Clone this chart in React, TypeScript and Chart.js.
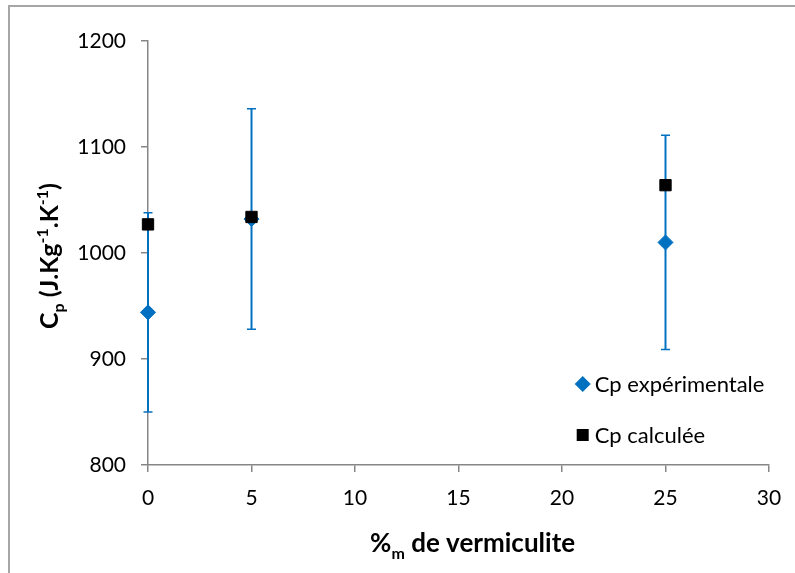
import React, { useEffect, useRef } from "react";
import { Chart, registerables } from "chart.js";

Chart.register(...registerables);

// ---- data ----
const xValues = [0, 5, 25];
const cpExperimentale = [944, 1032, 1010];
const cpExperimentaleErr = [94, 104, 101];
const cpCalculee = [1027, 1034, 1064];
const seriesLabels = ["Cp expérimentale", "Cp calculée"];
const xAxisMin = 0;
const xAxisMax = 30;
const xAxisStep = 5;
const yAxisMin = 800;
const yAxisMax = 1200;
const yAxisStep = 100;

const FONT = "Lato, 'Liberation Sans', sans-serif";
const BLUE = "#0070C0";
const AXIS = "#868686";

type Part = [string, "n" | "sub" | "sup"];

function drawRich(ctx: CanvasRenderingContext2D, parts: Part[], cx: number, cy: number, size: number, bold: boolean) {
  const small = Math.round(size * 0.62);
  const fontFor = (k: string) => `${bold ? "bold " : ""}${k === "n" ? size : small}px ${FONT}`;
  const widths = parts.map(([t, k]) => {
    ctx.font = fontFor(k);
    return ctx.measureText(t).width;
  });
  const total = widths.reduce((a, b) => a + b, 0);
  let x = cx - total / 2;
  const base = cy + size * 0.36;
  ctx.textBaseline = "alphabetic";
  ctx.textAlign = "left";
  parts.forEach(([t, k], i) => {
    ctx.font = fontFor(k);
    const off = k === "sub" ? size * 0.24 : k === "sup" ? -size * 0.4 : 0;
    ctx.fillText(t, x, base + off);
    x += widths[i];
  });
}

const errorBarPlugin = {
  id: "errorBars",
  beforeDatasetsDraw(chart: any) {
    const { ctx, scales } = chart;
    const xs = scales.x;
    const ys = scales.y;
    ctx.save();
    ctx.strokeStyle = BLUE;
    xValues.forEach((xv, i) => {
      const px = xs.getPixelForValue(xv);
      const top = ys.getPixelForValue(cpExperimentale[i] + cpExperimentaleErr[i]);
      const bot = ys.getPixelForValue(cpExperimentale[i] - cpExperimentaleErr[i]);
      ctx.lineWidth = 2;
      ctx.beginPath();
      ctx.moveTo(px, top);
      ctx.lineTo(px, bot);
      ctx.stroke();
      ctx.lineWidth = 1.5;
      ctx.beginPath();
      ctx.moveTo(px - 4.5, top);
      ctx.lineTo(px + 4.5, top);
      ctx.moveTo(px - 4.5, bot);
      ctx.lineTo(px + 4.5, bot);
      ctx.stroke();
    });
    ctx.restore();
  },
};

const decorPlugin = {
  id: "decor",
  afterDraw(chart: any) {
    const { ctx, chartArea } = chart;
    ctx.save();
    ctx.fillStyle = "#000";
    // y title
    ctx.save();
    ctx.translate(chartArea.left - 98.6, 256);
    ctx.rotate(-Math.PI / 2);
    drawRich(
      ctx,
      [
        ["C", "n"],
        ["p", "sub"],
        [" (J.Kg", "n"],
        ["-1", "sup"],
        [".K", "n"],
        ["-1", "sup"],
        [")", "n"],
      ],
      0,
      0,
      25,
      true
    );
    ctx.restore();
    // x title
    drawRich(
      ctx,
      [
        ["%", "n"],
        ["m", "sub"],
        [" de vermiculite", "n"],
      ],
      472.6,
      543,
      26,
      true
    );
    // legend
    const mx = chartArea.left + 434.7;
    const rows = [chartArea.top + 343.1, chartArea.top + 394];
    ctx.font = `22px ${FONT}`;
    ctx.textBaseline = "middle";
    ctx.textAlign = "left";
    rows.forEach((ry, i) => {
      if (i === 0) {
        ctx.fillStyle = BLUE;
        ctx.beginPath();
        ctx.moveTo(mx, ry - 8);
        ctx.lineTo(mx + 8, ry);
        ctx.lineTo(mx, ry + 8);
        ctx.lineTo(mx - 8, ry);
        ctx.closePath();
        ctx.fill();
      } else {
        ctx.fillStyle = "#000";
        ctx.fillRect(mx - 6, ry - 6, 12, 12);
      }
      ctx.fillStyle = "#000";
      ctx.fillText(seriesLabels[i], mx + 12, ry + 1);
    });
    ctx.restore();
  },
};

export default function App() {
  const ref = useRef<HTMLCanvasElement | null>(null);
  useEffect(() => {
    if (!ref.current) return;
    const chart = new Chart(ref.current, {
      type: "scatter",
      data: {
        datasets: [
          {
            label: seriesLabels[0],
            data: xValues.map((x, i) => ({ x, y: cpExperimentale[i] })),
            pointStyle: "rectRot",
            pointRadius: 7.5,
            pointBorderWidth: 1,
            backgroundColor: BLUE,
            borderColor: BLUE,
            order: 1,
            clip: false,
          },
          {
            label: seriesLabels[1],
            data: xValues.map((x, i) => ({ x, y: cpCalculee[i] })),
            pointStyle: "rect",
            pointRadius: 8,
            pointBorderWidth: 1,
            backgroundColor: "#000",
            borderColor: "#000",
            order: 0,
            clip: false,
          },
        ],
      },
      options: {
        responsive: false,
        animation: false,
        layout: { padding: { left: 0, right: 26, top: 41, bottom: 0 } },
        plugins: { legend: { display: false }, tooltip: { enabled: false } },
        scales: {
          x: {
            type: "linear",
            min: xAxisMin,
            max: xAxisMax,
            ticks: {
              stepSize: xAxisStep,
              color: "#000",
              font: { family: FONT, size: 21 },
              padding: 14,
              callback: (v: any) => String(v),
            },
            grid: { drawOnChartArea: false, drawTicks: true, tickLength: 7, color: AXIS, lineWidth: 1.5 },
            border: { color: AXIS, width: 1.5 },
            afterFit: (s: any) => {
              s.height = 108;
              s.paddingLeft = 0;
              s.paddingRight = 0;
            },
          },
          y: {
            type: "linear",
            min: yAxisMin,
            max: yAxisMax,
            ticks: {
              stepSize: yAxisStep,
              color: "#000",
              font: { family: FONT, size: 21 },
              padding: 15,
              callback: (v: any) => String(v),
            },
            grid: { drawOnChartArea: false, drawTicks: true, tickLength: 7, color: AXIS, lineWidth: 1.5 },
            border: { color: AXIS, width: 1.5 },
            afterFit: (s: any) => {
              s.width = 148;
              s.paddingTop = 0;
              s.paddingBottom = 0;
            },
          },
        },
      },
      plugins: [errorBarPlugin, decorPlugin],
    });
    return () => chart.destroy();
  }, []);
  return (
    <div style={{ position: "fixed", left: 0, top: 0, width: 795, height: 573, overflow: "hidden", background: "#fff" }}>
      <div
        style={{
          position: "absolute",
          left: 8,
          top: 5,
          width: 900,
          height: 800,
          border: "2px solid #a6a6a6",
          boxSizing: "border-box",
        }}
      />
      <canvas ref={ref} width={795} height={573} style={{ position: "absolute", left: 0, top: 0, width: 795, height: 573 }} />
    </div>
  );
}
